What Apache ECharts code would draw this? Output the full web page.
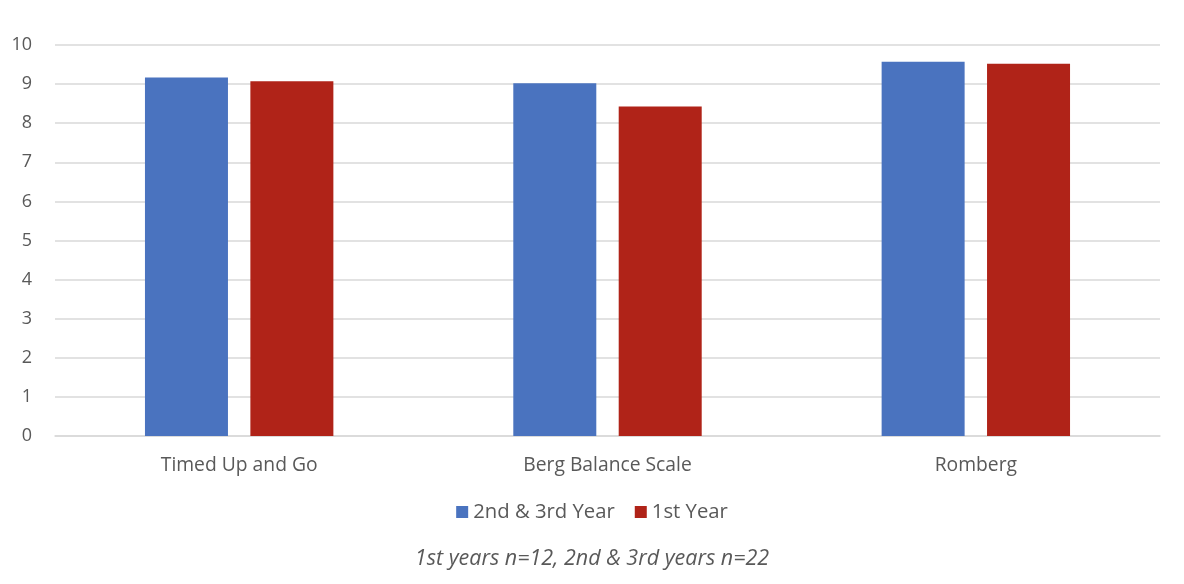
<!DOCTYPE html>
<html><head><meta charset="utf-8">
<script src="https://cdn.jsdelivr.net/npm/echarts@6/dist/echarts.min.js"></script>
<style>html,body{margin:0;padding:0;background:#fff}#c{width:1184px;height:584px}</style>
</head><body><div id="c"></div>
<script>
const categories = ["Timed Up and Go", "Berg Balance Scale", "Romberg"];
const seriesNames = ["2nd & 3rd Year", "1st Year"];
const upperYears = [9.17, 9.02, 9.57];
const firstYear = [9.07, 8.43, 9.52];
const note = "1st years n=12, 2nd & 3rd years n=22";
const FONT = "Open Sans";
const chart = echarts.init(document.getElementById('c'));
chart.setOption({
  animation: false,
  textStyle: {fontFamily: FONT},
  grid: {left: 55, right: 24, top: 45, bottom: 148},
  title: {text: note, left: 'center', top: 543, textStyle: {fontStyle: 'italic', fontWeight: 'normal', fontSize: 21.5, color: '#595959', fontFamily: FONT}},
  legend: {data: seriesNames, top: 497, left: 'center', itemWidth: 12, itemHeight: 12, itemGap: 20, icon: 'rect',
    textStyle: {fontSize: 20.3, color: '#595959', fontFamily: FONT}},
  xAxis: {type: 'category', data: categories,
    axisLine: {lineStyle: {color: '#d9d9d9', width: 1.5}}, axisTick: {show: false},
    axisLabel: {fontSize: 19.3, color: '#595959', margin: 20, fontFamily: FONT}},
  yAxis: {type: 'value', min: 0, max: 10, interval: 1,
    axisLine: {show: false}, axisTick: {show: false},
    splitLine: {lineStyle: {color: '#d9d9d9', width: 1.5}},
    axisLabel: {fontSize: 18, color: '#595959', margin: 23, fontFamily: FONT}},
  series: [
    {name: seriesNames[0], type: 'bar', data: upperYears, barWidth: 83, barGap: '27%', itemStyle: {color: '#4a73bf'}},
    {name: seriesNames[1], type: 'bar', data: firstYear, barWidth: 83, barGap: '27%', itemStyle: {color: '#b02318'}}
  ]
});
</script></body></html>
